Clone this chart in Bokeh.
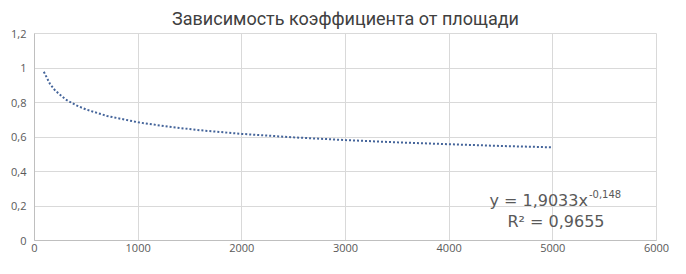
from bokeh.plotting import figure
from bokeh.models import Range1d, FixedTicker, Label
from bokeh.embed import file_html
from bokeh.resources import INLINE

# Trend curve (area -> coefficient)
area = [90, 150, 200, 300, 400, 500, 700, 1000, 1300, 1600, 2000, 2500, 3000, 3500, 4000, 4500, 5000]
coef = [0.978, 0.907, 0.869, 0.818, 0.784, 0.759, 0.722, 0.685, 0.659, 0.639, 0.618, 0.598, 0.582, 0.569, 0.558, 0.548, 0.540]

x_ticks = [0, 1000, 2000, 3000, 4000, 5000, 6000]
x_labels = ["0", "1000", "2000", "3000", "4000", "5000", "6000"]
y_ticks = [0, 0.2, 0.4, 0.6, 0.8, 1.0, 1.2]
y_labels = ["0", "0,2", "0,4", "0,6", "0,8", "1", "1,2"]

title_text = "Зависимость коэффициента от площади"
eq_main = "y = 1,9033x"
eq_exp = "-0,148"
r2_text = "R² = 0,9655"

TEXT = "#595959"
GRID = "#d9d9d9"

p = figure(width=670, height=258, output_backend="svg", toolbar_location=None,
           x_range=Range1d(0, 6000), y_range=Range1d(0, 1.2),
           min_border_left=34, min_border_right=14, min_border_bottom=18, min_border_top=33)

p.title.text = title_text
p.title.align = "center"
p.title.text_font = "Roboto"
p.title.text_font_size = "18px"
p.title.text_font_style = "normal"
p.title.text_color = "#404040"
p.title.standoff = 9
p.title.offset = -6

p.outline_line_color = GRID
p.background_fill_color = "white"
p.border_fill_color = "white"

p.xaxis.ticker = FixedTicker(ticks=x_ticks)
p.yaxis.ticker = FixedTicker(ticks=y_ticks)
p.xaxis.major_label_overrides = {t: l for t, l in zip(x_ticks, x_labels)}
p.yaxis.major_label_overrides = {t: l for t, l in zip(y_ticks, y_labels)}
p.xgrid.ticker = FixedTicker(ticks=x_ticks)
p.ygrid.ticker = FixedTicker(ticks=y_ticks)
p.xgrid.grid_line_color = GRID
p.ygrid.grid_line_color = GRID

for ax in (p.xaxis, p.yaxis):
    ax.axis_line_color = "#bfbfbf"
    ax.major_tick_line_color = None
    ax.minor_tick_line_color = None
    ax.major_tick_out = 0
    ax.major_tick_in = 0
    ax.major_label_text_font = "Open Sans"
    ax.major_label_text_font_size = "11px"
    ax.major_label_text_color = TEXT
p.yaxis.major_label_standoff = 8
p.xaxis.major_label_standoff = 3

p.line(area, coef, line_color="#44649a", line_width=2, line_dash="2 2")

cx = 5030
p.add_layout(Label(x=cx, y=0.232, x_offset=32, text=eq_main, text_align="right", text_baseline="middle",
                   text_font="DejaVu Sans", text_font_size="16px", text_color=TEXT))
p.add_layout(Label(x=cx, y=0.232, x_offset=33, y_offset=6, text=eq_exp, text_align="left", text_baseline="middle",
                   text_font="DejaVu Sans", text_font_size="10px", text_color=TEXT))
p.add_layout(Label(x=cx, y=0.112, text=r2_text, text_align="center", text_baseline="middle",
                   text_font="DejaVu Sans", text_font_size="16px", text_color=TEXT))

open("out.html", "w").write(file_html(p, INLINE))
